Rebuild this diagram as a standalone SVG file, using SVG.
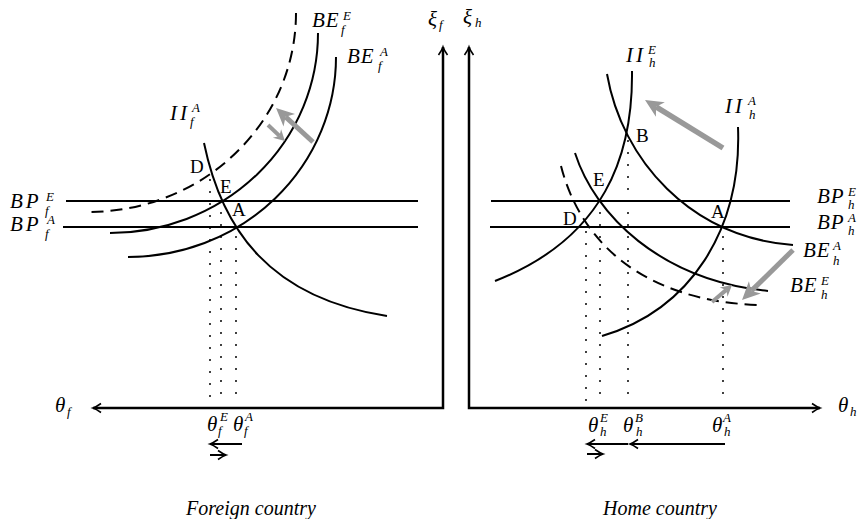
<svg xmlns="http://www.w3.org/2000/svg" width="865" height="519" viewBox="0 0 865 519">
<style>
.c{fill:none;stroke:#000;stroke-width:2}
.d{stroke-dasharray:12 7}
.dot{fill:none;stroke:#000;stroke-width:2;stroke-dasharray:0 12;stroke-linecap:round}
.ax{fill:none;stroke:#000;stroke-width:2.5}
.ar{fill:none;stroke:#000;stroke-width:2}
.g{fill:none;stroke:#999}
.m{font-family:"Liberation Serif","Times New Roman",serif;font-style:italic;font-size:21px;letter-spacing:1px}
.w{letter-spacing:3px}
.s{font-size:13px;letter-spacing:0}
.p{font-family:"Liberation Serif","Times New Roman",serif;font-size:19px}
.t{font-family:"Liberation Serif","Times New Roman",serif;font-style:italic;font-size:20px}
</style>
<defs>
<marker id="ah" markerUnits="userSpaceOnUse" viewBox="-10 -6 12 12" refX="0" refY="0" markerWidth="12" markerHeight="12" orient="auto-start-reverse" overflow="visible">
<path d="M-8,-4.5 Q-3,-1 0,0 Q-3,1 -8,4.5" fill="none" stroke="#000" stroke-width="1.6"/>
</marker>
<marker id="gb" markerUnits="userSpaceOnUse" viewBox="0 -9 18 18" refX="5" refY="0" markerWidth="18" markerHeight="18" orient="auto" overflow="visible">
<path d="M0,-8.5 L18,0 L0,8.5 L5,0 Z" fill="#999"/>
</marker>
<marker id="gs" markerUnits="userSpaceOnUse" viewBox="0 -6 11 12" refX="3.5" refY="0" markerWidth="11" markerHeight="12" orient="auto" overflow="visible">
<path d="M0,-6 L11,0 L0,6 L3.5,0 Z" fill="#999"/>
</marker>
</defs>

<!-- Foreign country panel -->
<g id="axes-f">
<path class="ax" d="M93,408 L443,408 L443,47" marker-start="url(#ah)" marker-end="url(#ah)"/>
<text class="m" x="428" y="26">ξ<tspan class="s" x="439" y="29">f</tspan></text>
<text class="m" x="55" y="412">θ<tspan class="s" x="67" y="416">f</tspan></text>
</g>
<g id="BPfE">
<line class="c" x1="66" y1="201" x2="418" y2="201"/>
<text class="m w" x="10" y="208">BP<tspan class="s" x="46" y="201">E</tspan><tspan class="s" x="45" y="215">f</tspan></text>
</g>
<g id="BPfA">
<line class="c" x1="63" y1="227" x2="418" y2="227"/>
<text class="m w" x="10" y="231">BP<tspan class="s" x="47" y="224">A</tspan><tspan class="s" x="45" y="238">f</tspan></text>
</g>
<g id="BEf-dashed">
<path class="c d" d="M296,13 A208,199 0 0 1 88,212"/>
</g>
<g id="BEfE">
<path class="c" d="M318,33 A208,200 0 0 1 110,233"/>
<text class="m" x="312" y="27">BE<tspan class="s" x="343" y="20">E</tspan><tspan class="s" x="341" y="34">f</tspan></text>
</g>
<g id="BEfA">
<path class="c" d="M336,57 A208,200 0 0 1 128,257"/>
<text class="m" x="347" y="63">BE<tspan class="s" x="380" y="56">A</tspan><tspan class="s" x="378" y="70">f</tspan></text>
</g>
<g id="IIfA">
<path class="c" d="M204,143 C222,230 270,298 387,316"/>
<text class="m w" x="170" y="120">II<tspan class="s" x="192" y="112">A</tspan><tspan class="s" x="190" y="126">f</tspan></text>
</g>
<g id="points-f">
<text class="p" x="190" y="173">D</text>
<text class="p" x="220" y="193">E</text>
<text class="p" x="232" y="216">A</text>
<line class="dot" x1="210" y1="180" x2="210" y2="405"/>
<line class="dot" x1="221" y1="213" x2="221" y2="405"/>
<line class="dot" x1="236" y1="237" x2="236" y2="405"/>
<text class="m" x="207" y="431">θ<tspan class="s" x="220" y="421">E</tspan><tspan class="s" x="218" y="435">f</tspan></text>
<text class="m" x="233" y="431">θ<tspan class="s" x="245" y="421">A</tspan><tspan class="s" x="244" y="435">f</tspan></text>
</g>
<text class="t" x="251" y="515" text-anchor="middle">Foreign country</text>

<!-- Home country panel -->
<g id="axes-h">
<path class="ax" d="M469,47 L469,408 L820,408" marker-start="url(#ah)" marker-end="url(#ah)"/>
<text class="m" x="463" y="24">ξ<tspan class="s" x="475" y="27">h</tspan></text>
<text class="m" x="838" y="412">θ<tspan class="s" x="850" y="416">h</tspan></text>
</g>
<g id="BPhE">
<line class="c" x1="491" y1="201" x2="790" y2="201"/>
<text class="m" x="817" y="203">BP<tspan class="s" x="848" y="196">E</tspan><tspan class="s" x="848" y="209">h</tspan></text>
</g>
<g id="BPhA">
<line class="c" x1="490" y1="227" x2="790" y2="227"/>
<text class="m" x="817" y="229">BP<tspan class="s" x="848" y="222">A</tspan><tspan class="s" x="848" y="235">h</tspan></text>
</g>
<g id="IIhE">
<path class="c" d="M632,71 C633,155 605,238 495,281"/>
<text class="m w" x="626" y="62">II<tspan class="s" x="648" y="54">E</tspan><tspan class="s" x="649" y="67">h</tspan></text>
</g>
<g id="IIhA">
<path class="c" d="M738,127 C742,230 690,310 602,336"/>
<text class="m w" x="725" y="113">II<tspan class="s" x="748" y="105">A</tspan><tspan class="s" x="749" y="119">h</tspan></text>
</g>
<g id="BEhA">
<path class="c" d="M607,74 C622,160 690,237 793,245"/>
<text class="m" x="803" y="257">BE<tspan class="s" x="833" y="250">A</tspan><tspan class="s" x="833" y="265">h</tspan></text>
</g>
<g id="BEhE">
<path class="c" d="M575,153 C595,215 660,280 768,291"/>
<text class="m" x="790" y="292">BE<tspan class="s" x="821" y="285">E</tspan><tspan class="s" x="821" y="299">h</tspan></text>
</g>
<g id="BEh-dashed">
<path class="c d" d="M561,166 C580,240 640,300 757,305"/>
</g>
<g id="points-h">
<text class="p" x="636" y="142">B</text>
<text class="p" x="593" y="186">E</text>
<text class="p" x="563" y="225">D</text>
<text class="p" x="711" y="218">A</text>
<line class="dot" x1="586" y1="232" x2="586" y2="405"/>
<line class="dot" x1="600" y1="213" x2="600" y2="405"/>
<line class="dot" x1="628" y1="141" x2="628" y2="405"/>
<line class="dot" x1="723" y1="237" x2="723" y2="405"/>
<text class="m" x="588" y="432">θ<tspan class="s" x="600" y="422">E</tspan><tspan class="s" x="600" y="436">h</tspan></text>
<text class="m" x="623" y="432">θ<tspan class="s" x="635" y="422">B</tspan><tspan class="s" x="636" y="436">h</tspan></text>
<text class="m" x="712" y="432">θ<tspan class="s" x="723" y="422">A</tspan><tspan class="s" x="724" y="436">h</tspan></text>
</g>
<text class="t" x="660" y="515" text-anchor="middle">Home country</text>

<!-- connectors: shift arrows -->
<g id="connectors">
<line class="g" stroke-width="5" x1="313" y1="142" x2="285.6" y2="116.8" marker-end="url(#gb)"/>
<line class="g" stroke-width="4" x1="268" y1="125" x2="279.5" y2="135.9" marker-end="url(#gs)"/>
<line class="g" stroke-width="5.5" x1="723" y1="148" x2="656.1" y2="106.8" marker-end="url(#gb)"/>
<line class="g" stroke-width="5" x1="793" y1="250" x2="751.3" y2="290.9" marker-end="url(#gb)"/>
<line class="g" stroke-width="4" x1="712" y1="302" x2="726.3" y2="289.9" marker-end="url(#gs)"/>
<line class="ar" x1="242" y1="444" x2="210" y2="444" marker-end="url(#ah)"/>
<line class="ar" x1="210" y1="455" x2="226" y2="455" marker-end="url(#ah)"/>
<line class="ar" x1="628" y1="444" x2="587" y2="444" marker-end="url(#ah)"/>
<line class="ar" x1="725" y1="444" x2="630" y2="444" marker-end="url(#ah)"/>
<line class="ar" x1="587" y1="454" x2="603" y2="454" marker-end="url(#ah)"/>
</g>
</svg>
